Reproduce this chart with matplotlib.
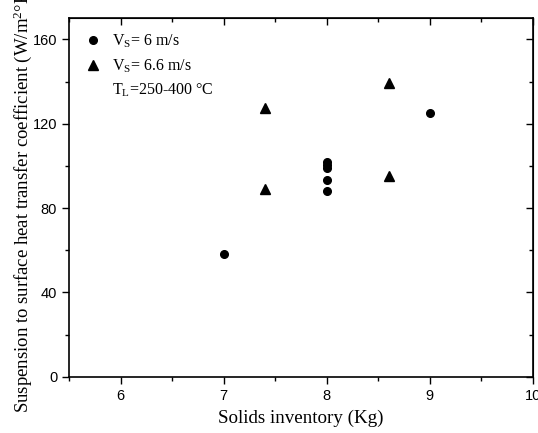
import matplotlib
matplotlib.use("Agg")
import matplotlib.pyplot as plt
from matplotlib.lines import Line2D
from matplotlib.ticker import MultipleLocator

plt.rcParams['mathtext.fontset'] = 'custom'
plt.rcParams['mathtext.rm'] = 'Liberation Serif'
plt.rcParams['mathtext.it'] = 'Liberation Serif:italic'

# Data
circ_x = [7, 8, 8, 8, 8, 8, 9]
circ_y = [58, 102, 100.5, 99, 93.3, 88.3, 125]
tri_x = [7.4, 7.4, 8.6, 8.6]
tri_y = [127.3, 88.8, 139.3, 95.1]

xticks = [6, 7, 8, 9, 10]
yticks = [0, 40, 80, 120, 160]

fig = plt.figure(figsize=(5.38, 4.33), dpi=100)
ax = fig.add_axes([69/538, 1-376.7/433, (533-69)/538, (376.7-18.3)/433])

ax.plot(circ_x, circ_y, 'o', color='black', ms=5.5, ls='none')
ax.plot(tri_x, tri_y, '^', color='black', ms=7.5, ls='none')

ax.set_xlim(5.5, 10)
ax.set_ylim(0, 170)
ax.set_xticks(xticks)
ax.set_yticks(yticks)
ax.xaxis.set_minor_locator(MultipleLocator(0.5))
ax.yaxis.set_minor_locator(MultipleLocator(20))
for lab in ax.get_xticklabels() + ax.get_yticklabels():
    lab.set_fontfamily('Liberation Sans')
    lab.set_fontsize(10.5)

ax.tick_params(which='both', direction='out', top=False, right=False, width=1)
ax.tick_params(which='major', length=5)
ax.tick_params(which='minor', length=3)
for s in ax.spines.values():
    s.set_linewidth(1.2)

# mirrored inward ticks on top/right
axt = ax.secondary_xaxis('top')
axt.set_xticks(xticks)
axt.xaxis.set_minor_locator(MultipleLocator(0.5))
axt.tick_params(which='both', direction='in', labeltop=False, width=1)
axt.tick_params(which='major', length=5)
axt.tick_params(which='minor', length=3)
axr = ax.secondary_yaxis('right')
axr.set_yticks(yticks)
axr.yaxis.set_minor_locator(MultipleLocator(20))
axr.tick_params(which='both', direction='in', labelright=False, width=1)
axr.tick_params(which='major', length=5)
axr.tick_params(which='minor', length=3)

ax.set_xlabel('Solids inventory (Kg)', fontfamily='Liberation Serif', fontsize=13.7, labelpad=5)
ax.set_ylabel('Suspension to surface heat transfer coefficient (W/m$^2$°K)',
              fontfamily='Liberation Serif', fontsize=13.5, labelpad=-1)

handles = [Line2D([], [], marker='o', color='black', ls='none', ms=5.5),
           Line2D([], [], marker='^', color='black', ls='none', ms=7.5),
           Line2D([], [], ls='none')]
labels = ['V$_\\mathrm{S}$= 6 m/s', 'V$_\\mathrm{S}$= 6.6 m/s', 'T$_\\mathrm{L}$=250-400 °C']
leg = ax.legend(handles, labels, loc='upper left', frameon=False,
                prop={'family': 'Liberation Serif', 'size': 11.5},
                handletextpad=0.6, labelspacing=0.45, borderaxespad=0.5,
                handlelength=1.2)

fig.savefig('out.png', dpi=100)
